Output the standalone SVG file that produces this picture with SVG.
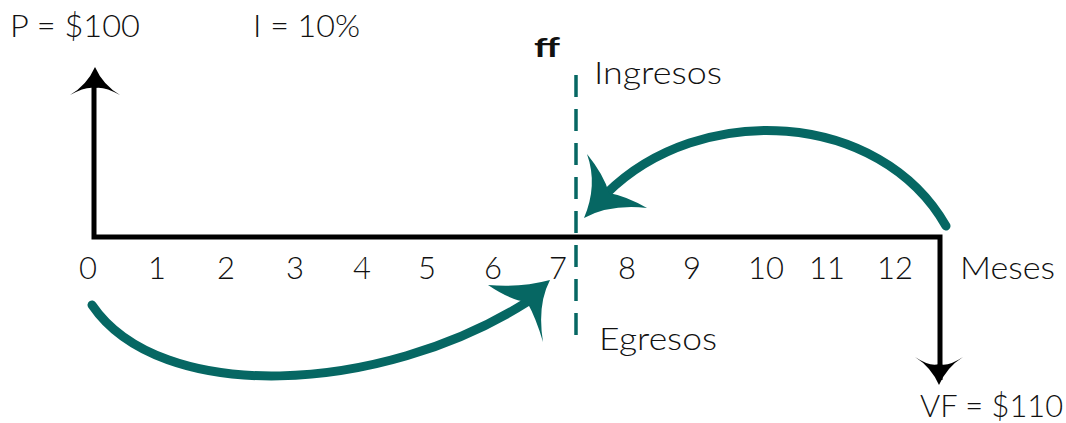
<svg xmlns="http://www.w3.org/2000/svg" width="1066" height="423" viewBox="0 0 1066 423">
<style>
.t{font-family:Lato,"Liberation Sans",sans-serif;font-weight:300;fill:#111;font-size:31px}
.k{stroke:#000;stroke-width:5;fill:none}
.tc{stroke:#066763;stroke-width:9;fill:none;stroke-linecap:round}
.th{fill:#066763}
</style>
<rect width="1066" height="423" fill="#fff"/>
<g id="axis">
<path class="k" d="M94,86 V237 H940 V380"/>
<path d="M95,67 Q103,85 120,95 Q104,86 95,88 Q86,86 70,95 Q87,85 95,67 Z"/>
<path d="M939,385 Q947,367 963,357 Q948,367 939,364 Q930,367 915,357 Q931,367 939,385 Z"/>
</g>
<g id="connectors">
<line x1="576" y1="75" x2="576" y2="340" stroke="#066763" stroke-width="3.5" stroke-dasharray="22 12"/>
<path class="tc" d="M946,226 C880,110 700,100 606,194"/>
<path class="th" d="M584,218 Q598,185 587,154 Q604,175 609,193 Q626,196 647,208 Q610,204 584,218 Z"/>
<path class="tc" d="M92,305 C160,405 380,395 527,302"/>
<path class="th" d="M550,280 Q520,288 488,285 Q510,300 527,302 Q536,318 543,342 Q537,305 550,280 Z"/>
</g>
<g id="labels">
<text class="t" x="10" y="37" font-size="32" textLength="130" lengthAdjust="spacingAndGlyphs">P = $100</text>
<text class="t" x="253" y="37" font-size="32" textLength="107" lengthAdjust="spacingAndGlyphs">I = 10%</text>
<text x="534" y="57" textLength="26" lengthAdjust="spacingAndGlyphs" style="font-family:Lato,'Liberation Sans',sans-serif;font-weight:bold;font-size:26px;fill:#111">ff</text>
<text class="t" x="594" y="84" textLength="128" lengthAdjust="spacingAndGlyphs">Ingresos</text>
<text class="t" x="599" y="350" textLength="118" lengthAdjust="spacingAndGlyphs">Egresos</text>
<text class="t" x="960" y="279" textLength="95" lengthAdjust="spacingAndGlyphs">Meses</text>
<text class="t" x="920" y="417" font-size="32" textLength="143" lengthAdjust="spacingAndGlyphs">VF = $110</text>
</g>
<g id="ticks" class="t" text-anchor="middle">
<text x="88" y="279">0</text>
<text x="157" y="279">1</text>
<text x="226" y="279">2</text>
<text x="295" y="279">3</text>
<text x="362" y="279">4</text>
<text x="427" y="279">5</text>
<text x="493" y="279">6</text>
<text x="558" y="279">7</text>
<text x="627" y="279">8</text>
<text x="692" y="279">9</text>
<text x="766" y="279">10</text>
<text x="827" y="279">11</text>
<text x="895" y="279">12</text>
</g>
</svg>
